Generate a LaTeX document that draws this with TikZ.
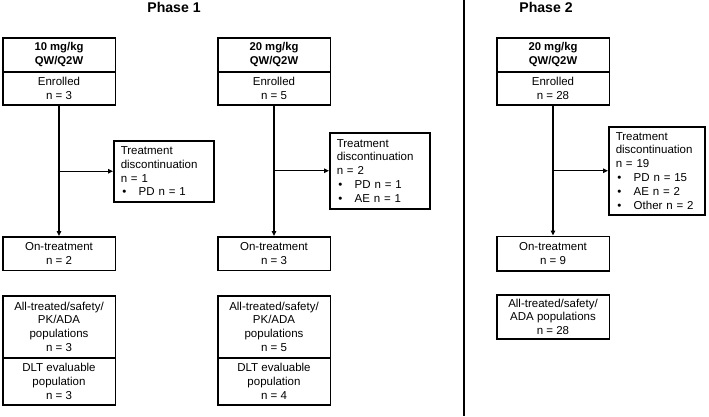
\documentclass[tikz,border=0pt]{standalone}
\usepackage{fontspec}
\setmainfont{Liberation Sans}
\usetikzlibrary{arrows.meta}
\begin{document}
\begin{tikzpicture}[x=1pt,y=-1pt,
  every node/.style={font=\fontsize{11.5}{13.8}\selectfont},
  box/.style={draw, line width=1.5pt, inner sep=0pt, align=center, anchor=north west, minimum width=112.5pt},
  hbox/.style={box, font=\fontsize{11.3}{13.8}\selectfont\bfseries},
  lbox/.style={draw, line width=1.5pt, inner xsep=7pt, inner ysep=0pt, align=left, anchor=north west},
  ttl/.style={font=\fontsize{14.1}{16}\selectfont\bfseries, anchor=base},
  conn/.style={line width=1.4pt, -{Triangle[length=5pt,width=4.5pt]}},
  divider/.style={line width=1.5pt},
]
\useasboundingbox (0,0) rectangle (709,416);
\newcommand{\bul}{\hspace*{1.5pt}\makebox[16.5pt][l]{\textbullet}}

% titles
\node[ttl] (t1) at (174,12) {Phase 1};
\node[ttl] (t2) at (546,12) {Phase 2};
\draw[divider] (464,0) coordinate (dv1) -- (464,416) coordinate (dv2);

% column 1
\node[hbox, minimum height=34pt] (h1) at (2,37) {10 mg/kg\\QW/Q2W};
\node[box, minimum height=33pt] (e1) at (2,71) {Enrolled\\n = 3};
\node[lbox, minimum width=100pt, minimum height=61pt, text width=86pt] (d1) at (113,140)
  {Treatment\\discontinuation\\n = 1\\\bul PD n = 1};
\node[box, minimum height=33.5pt] (o1) at (2,236) {On-treatment\\n = 2};
\node[box, minimum height=62pt] (a1) at (2,295) {All-treated/safety/\\PK/ADA\\populations\\n = 3};
\node[box, minimum height=47pt] (l1) at (2,357) {DLT evaluable\\population\\n = 3};
\draw[conn] (e1.south) -- (o1.north);
\draw[conn] (e1.south |- d1.west) -- (d1.west);

% column 2
\node[hbox, minimum height=34pt] (h2) at (217,37) {20 mg/kg\\QW/Q2W};
\node[box, minimum height=33pt] (e2) at (217,71) {Enrolled\\n = 5};
\node[lbox, minimum width=100pt, minimum height=76pt, text width=86pt] (d2) at (329,132)
  {Treatment\\discontinuation\\n = 2\\\bul PD n = 1\\\bul AE n = 1};
\node[box, minimum height=33.5pt] (o2) at (217,236) {On-treatment\\n = 3};
\node[box, minimum height=62pt] (a2) at (217,295) {All-treated/safety/\\PK/ADA\\populations\\n = 5};
\node[box, minimum height=47pt] (l2) at (217,357) {DLT evaluable\\population\\n = 4};
\draw[conn] (e2.south) -- (o2.north);
\draw[conn] (e2.south |- d2.west) -- (d2.west);

% phase 2
\node[hbox, minimum height=34pt] (h3) at (496,37) {20 mg/kg\\QW/Q2W};
\node[box, minimum height=33pt] (e3) at (496,71) {Enrolled\\n = 28};
\node[lbox, minimum width=96pt, minimum height=88pt, text width=82pt] (d3) at (608,126)
  {Treatment\\discontinuation\\n = 19\\\bul PD n = 15\\\bul AE n = 2\\\bul Other n = 2};
\node[box, minimum height=34.5pt] (o3) at (496,235.5) {On-treatment\\n = 9};
\node[box, minimum height=44pt] (a3) at (496,294) {All-treated/safety/\\ADA populations\\n = 28};
\draw[conn] (e3.south) -- (o3.north);
\draw[conn] (e3.south |- d3.west) -- (d3.west);
\end{tikzpicture}
\end{document}
